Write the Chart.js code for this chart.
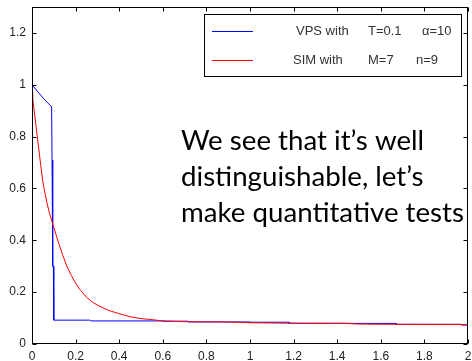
<!DOCTYPE html>
<html>
<head>
<meta charset="utf-8">
<script src="https://cdn.jsdelivr.net/npm/chart.js@4.4.1/dist/chart.umd.min.js"></script>
<style>
  html, body { margin: 0; padding: 0; background: #ffffff; }
  #wrap { position: relative; width: 472px; height: 361px; }
</style>
</head>
<body>
<div id="wrap"><canvas id="c" width="472" height="361"></canvas></div>
<script>
// ---- data ----
const xTicks = [0, 0.2, 0.4, 0.6, 0.8, 1, 1.2, 1.4, 1.6, 1.8, 2];
const yTicks = [0, 0.2, 0.4, 0.6, 0.8, 1, 1.2];

const vpsX = [0, 0.02, 0.04, 0.055, 0.09, 0.092, 0.095, 0.095, 0.098, 0.1, 0.265, 0.27, 0.6, 0.6, 0.715, 0.72, 1.0, 1.0, 1.18, 1.18, 1.45, 1.45, 1.67, 1.67, 1.97, 1.97, 2.0];
const vpsY = [1.0, 0.98, 0.96, 0.945, 0.915, 0.71, 0.705, 0.30, 0.30, 0.092, 0.092, 0.089, 0.089, 0.088, 0.088, 0.085, 0.085, 0.084, 0.084, 0.080, 0.080, 0.0795, 0.0795, 0.076, 0.076, 0.073, 0.073];

const simX = [0, 0.003, 0.01, 0.02, 0.03, 0.04, 0.05, 0.06, 0.07, 0.08, 0.09, 0.1, 0.12, 0.14, 0.16, 0.18, 0.2, 0.22, 0.25, 0.28, 0.3, 0.35, 0.4, 0.45, 0.5, 0.55, 0.6, 0.7, 0.8, 0.9, 1.0, 1.2, 1.45, 1.5, 1.7, 2.0];
const simY = [0.97, 0.95, 0.90, 0.83, 0.76, 0.69, 0.625, 0.58, 0.54, 0.505, 0.478, 0.45, 0.395, 0.345, 0.30, 0.265, 0.235, 0.21, 0.18, 0.16, 0.15, 0.13, 0.117, 0.105, 0.098, 0.094, 0.089, 0.086, 0.0855, 0.085, 0.082, 0.080, 0.079, 0.077, 0.0757, 0.075];

const vpsLegend = ['VPS with', 'T=0.1', '\u03B1=10'];
const simLegend = ['SIM with', 'M=7', 'n=9'];

const noteLines = ['We see that it\u2019s well', 'distinguishable, let\u2019s', 'make quantitative tests'];

function pts(xs, ys) { return xs.map((x, i) => ({ x: x, y: ys[i] })); }

// ---- plugin: frame, inward ticks, legend, note ----
const decor = {
  id: 'decor',
  afterDatasetsDraw(chart) {
    const ctx = chart.ctx;
    const a = chart.chartArea;
    const xs = chart.scales.x, ys = chart.scales.y;
    const L = Math.round(a.left) + 0.5, R = Math.round(a.right) - 0.5;
    const T = Math.round(a.top) + 0.5, B = Math.round(a.bottom) - 0.5;
    ctx.save();
    ctx.strokeStyle = '#000';
    ctx.lineWidth = 1;
    ctx.strokeRect(L, T, R - L, B - T);
    const tl = 4;
    ctx.beginPath();
    xTicks.forEach(v => {
      const px = Math.round(xs.getPixelForValue(v)) + 0.5;
      ctx.moveTo(px, B); ctx.lineTo(px, B - tl);
      ctx.moveTo(px, T); ctx.lineTo(px, T + tl);
    });
    yTicks.forEach(v => {
      const py = Math.round(ys.getPixelForValue(v)) + 0.5;
      ctx.moveTo(L, py); ctx.lineTo(L + tl, py);
      ctx.moveTo(R, py); ctx.lineTo(R - tl, py);
    });
    ctx.stroke();

    // legend
    const lx = 204.5, ly = 14.5, lw = 257, lh = 62;
    ctx.fillStyle = '#fff';
    ctx.fillRect(lx, ly, lw, lh);
    ctx.strokeStyle = '#000';
    ctx.strokeRect(lx, ly, lw, lh);
    const rows = [
      { color: chart.data.datasets[1].borderColor, y: 31, parts: vpsLegend, xs: [296, 368, 422] },
      { color: chart.data.datasets[0].borderColor, y: 60, parts: simLegend, xs: [293, 368, 416] }
    ];
    ctx.font = '13px "Liberation Sans", Arial, sans-serif';
    ctx.textBaseline = 'middle';
    ctx.textAlign = 'left';
    rows.forEach(r => {
      ctx.strokeStyle = r.color;
      ctx.beginPath();
      ctx.moveTo(212, r.y + 0.5); ctx.lineTo(253, r.y + 0.5);
      ctx.stroke();
      ctx.fillStyle = '#333';
      r.parts.forEach((p, i) => ctx.fillText(p, r.xs[i], r.y + 0.5));
    });

    // note text
    ctx.fillStyle = '#000';
    ctx.textBaseline = 'alphabetic';
    ctx.font = '26px Lato, sans-serif';
    const w = ctx.measureText(noteLines[2]).width;
    const size = 26 * 283 / w;
    ctx.font = size.toFixed(2) + 'px Lato, sans-serif';
    const bases = [150, 186, 221.5];
    noteLines.forEach((t, i) => ctx.fillText(t, 181, bases[i]));
    ctx.restore();
  }
};

new Chart(document.getElementById('c'), {
  type: 'line',
  data: {
    datasets: [
      { label: simLegend.join('  '), data: pts(simX, simY), borderColor: '#ff0000', borderWidth: 1, pointRadius: 0, fill: false, tension: 0, order: 0 },
      { label: vpsLegend.join('  '), data: pts(vpsX, vpsY), borderColor: '#0000ff', borderWidth: 1, pointRadius: 0, fill: false, tension: 0, order: 1 }
    ]
  },
  options: {
    responsive: false,
    animation: false,
    events: [],
    layout: { padding: { top: 7, right: 4, left: 0, bottom: 0 } },
    plugins: { legend: { display: false }, tooltip: { enabled: false } },
    scales: {
      x: {
        type: 'linear', min: 0, max: 2,
        grid: { display: false, drawTicks: false },
        border: { display: false },
        afterBuildTicks: s => { s.ticks = xTicks.map(v => ({ value: v })); },
        afterFit: s => { s.height = 17; s.paddingLeft = 0; s.paddingRight = 0; },
        ticks: { padding: 5, maxRotation: 0, autoSkip: false, color: '#222',
                 font: { family: '"Liberation Sans", Arial, sans-serif', size: 12 },
                 callback: v => String(v) }
      },
      y: {
        type: 'linear', min: 0, max: 1.3,
        grid: { display: false, drawTicks: false },
        border: { display: false },
        afterBuildTicks: s => { s.ticks = yTicks.map(v => ({ value: v })); },
        afterFit: s => { s.width = 32; s.paddingTop = 0; s.paddingBottom = 0; },
        ticks: { padding: 6, autoSkip: false, color: '#222',
                 font: { family: '"Liberation Sans", Arial, sans-serif', size: 12 },
                 callback: v => String(v) }
      }
    }
  },
  plugins: [decor]
});
</script>
</body>
</html>
